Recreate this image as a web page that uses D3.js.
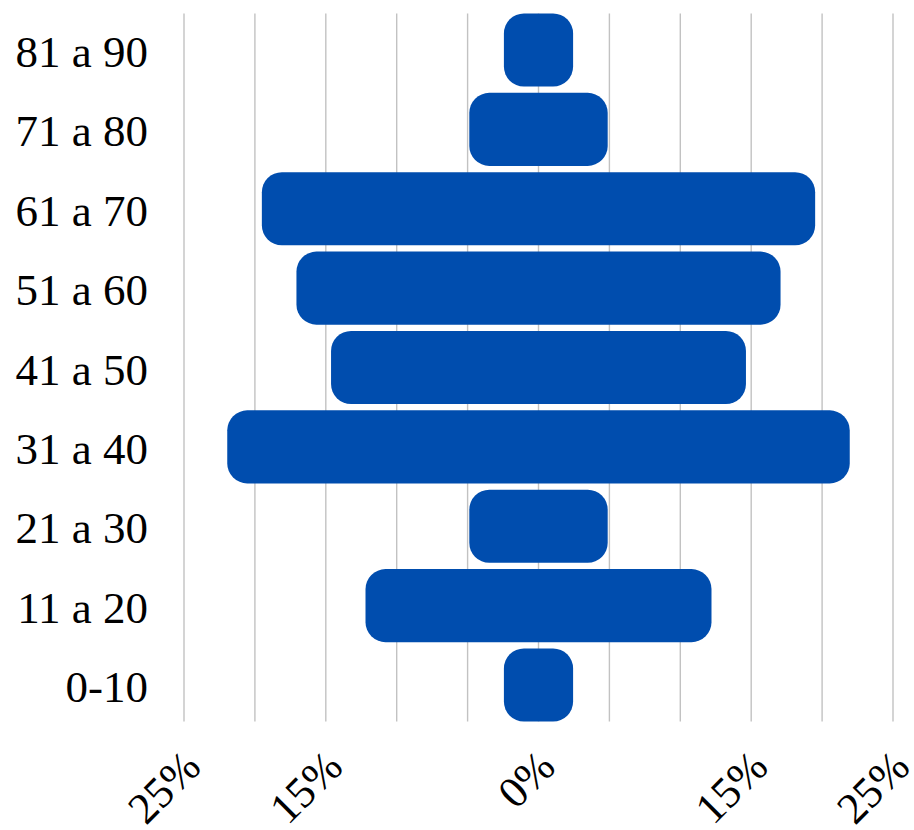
<!DOCTYPE html>
<html>
<head>
<meta charset="utf-8">
<script src="https://cdn.jsdelivr.net/npm/d3@7"></script>
<style>
  html, body { margin: 0; padding: 0; background: #fff; }
  svg { display: block; }
</style>
</head>
<body>
<svg id="chart" width="914" height="830"></svg>
<script>
// Age groups (top to bottom as drawn)
const categories = ["81 a 90", "71 a 80", "61 a 70", "51 a 60", "41 a 50", "31 a 40", "21 a 30", "11 a 20", "0-10"];
// Share of each group in percent (bar extends symmetrically ± value)
const values = [2.44, 4.88, 19.51, 17.07, 14.63, 21.95, 4.88, 12.20, 2.44];
// Gridline positions (percent) and labelled ticks
const gridValues = [-25, -20, -15, -10, -5, 0, 5, 10, 15, 20, 25];
const tickValues = [-25, -15, 0, 15, 25];
const tickLabels = ["25%", "15%", "0%", "15%", "25%"];

const svg = d3.select("#chart");
const plot = { left: 184, right: 893, top: 13.5, bottom: 721.5 };

const x = d3.scaleLinear().domain([-25, 25]).range([plot.left, plot.right]);
const y = d3.scaleBand().domain(categories).range([plot.top, plot.bottom]).paddingInner(0.08).paddingOuter(0);

// Gridlines
svg.append("g").selectAll("line").data(gridValues).join("line")
  .attr("x1", d => x(d)).attr("x2", d => x(d))
  .attr("y1", plot.top).attr("y2", plot.bottom)
  .attr("stroke", "#c2c2c2").attr("stroke-width", 1.4);

// Bars
svg.append("g").selectAll("rect").data(categories).join("rect")
  .attr("x", (d, i) => x(-values[i]))
  .attr("width", (d, i) => x(values[i]) - x(-values[i]))
  .attr("y", d => y(d))
  .attr("height", y.bandwidth())
  .attr("rx", 20).attr("ry", 20)
  .attr("fill", "#004dae");

// Category labels
svg.append("g").selectAll("text").data(categories).join("text")
  .attr("x", 148)
  .attr("y", d => y(d) + y.bandwidth() / 2 + 17)
  .attr("text-anchor", "end")
  .attr("font-family", "'Liberation Serif', 'Times New Roman', serif")
  .attr("font-size", 45)
  .attr("fill", "#000")
  .text(d => d);

// X tick labels rotated
svg.append("g").selectAll("text").data(tickValues).join("text")
  .attr("transform", d => `translate(${x(d) + 19},${769}) rotate(-45)`)
  .attr("text-anchor", "end")
  .attr("font-family", "'Liberation Serif', 'Times New Roman', serif")
  .attr("font-size", 44)
  .attr("fill", "#000")
  .text((d, i) => tickLabels[i]);
</script>
</body>
</html>
